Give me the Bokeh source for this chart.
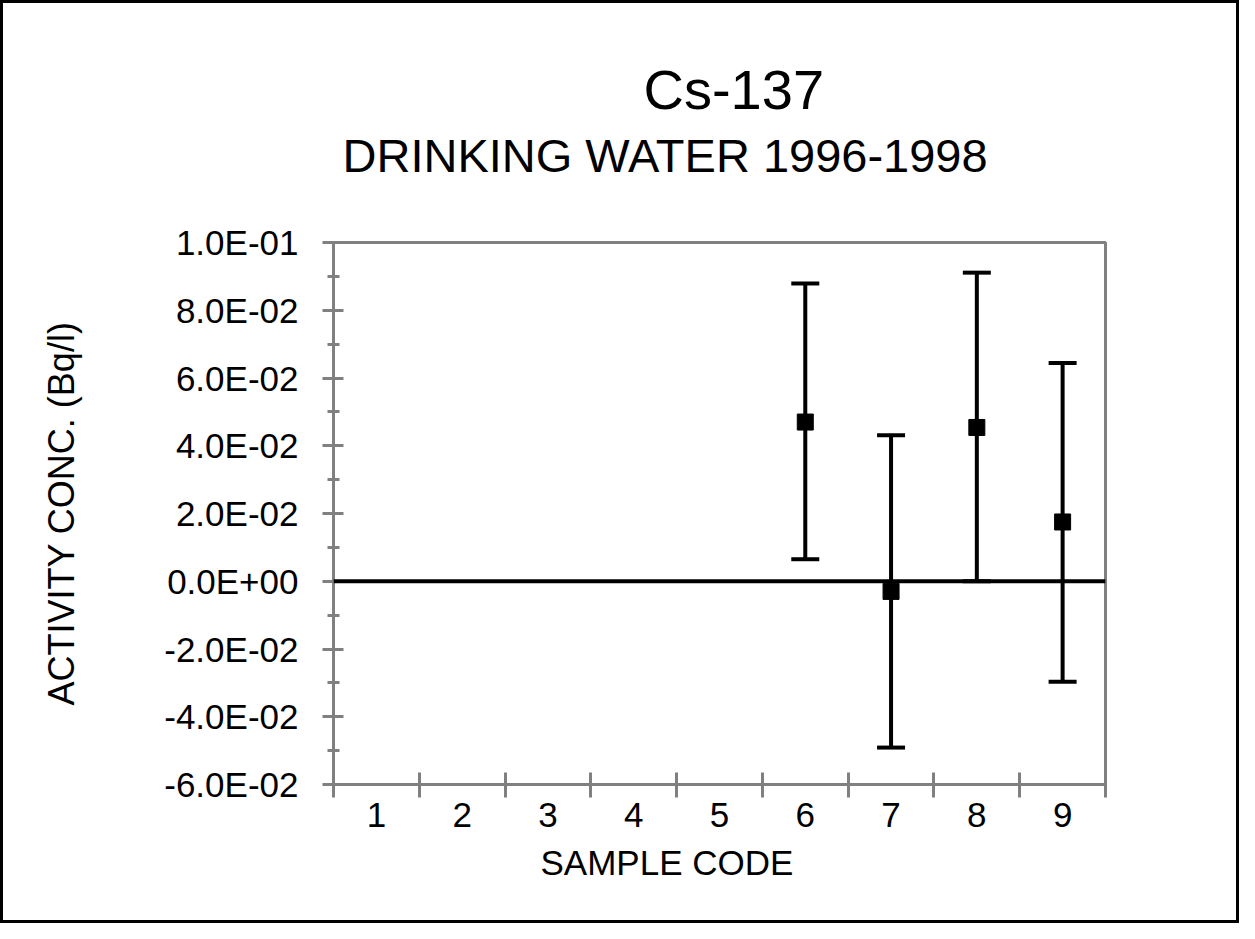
from bokeh.plotting import figure
from bokeh.models import (ColumnDataSource, Whisker, TeeHead, FixedTicker, Span, Title,
                          Range1d)
from bokeh.embed import file_html
from bokeh.resources import INLINE

# ---- data ----
sample_codes = [6, 7, 8, 9]
activity = [0.0470, -0.0030, 0.0454, 0.0175]
lower = [0.0065, -0.0491, 0.0000, -0.0297]
upper = [0.0879, 0.0431, 0.0911, 0.0644]

x_tick_values = [1, 2, 3, 4, 5, 6, 7, 8, 9]
x_tick_labels = ["1", "2", "3", "4", "5", "6", "7", "8", "9"]
x_boundaries = [0.5, 1.5, 2.5, 3.5, 4.5, 5.5, 6.5, 7.5, 8.5, 9.5]
y_tick_values = [-0.06, -0.04, -0.02, 0.0, 0.02, 0.04, 0.06, 0.08, 0.1]
y_tick_labels = ["-6.0E-02", "-4.0E-02", "-2.0E-02", "0.0E+00", "2.0E-02",
                 "4.0E-02", "6.0E-02", "8.0E-02", "1.0E-01"]
y_minor_values = [-0.05, -0.03, -0.01, 0.01, 0.03, 0.05, 0.07, 0.09]

title_text = "Cs-137"
subtitle_text = "DRINKING WATER 1996-1998"
x_label = "SAMPLE CODE"
y_label = "ACTIVITY CONC. (Bq/l)"

FONT = "Liberation Sans"
GRAY = "#808080"

src = ColumnDataSource(dict(x=sample_codes, y=activity, lower=lower, upper=upper))

p = figure(width=1239, height=923, output_backend="svg", toolbar_location=None,
           x_range=Range1d(0.5, 9.5), y_range=Range1d(-0.06, 0.1),
           min_border_left=330, min_border_right=137, min_border_top=239,
           min_border_bottom=142)
p.styles = {"border": "3px solid black", "box-sizing": "border-box"}

p.xgrid.visible = False
p.ygrid.visible = False
p.outline_line_color = GRAY
p.outline_line_width = 3
p.background_fill_color = "white"
p.border_fill_color = "white"

# x axis
xa = p.xaxis[0]
xa.ticker = FixedTicker(ticks=x_tick_values, minor_ticks=x_boundaries)
xa.major_label_overrides = {v: l for v, l in zip(x_tick_values, x_tick_labels)}
xa.major_tick_line_color = None
xa.major_tick_out = 13
xa.major_tick_in = 0
xa.minor_tick_line_color = GRAY
xa.minor_tick_line_width = 3
xa.minor_tick_out = 13
xa.minor_tick_in = 12
xa.axis_line_color = GRAY
xa.axis_line_width = 3
xa.major_label_text_font = FONT
xa.major_label_text_font_size = "35px"
xa.major_label_text_color = "black"
xa.major_label_standoff = 5

# y axis
ya = p.yaxis[0]
ya.ticker = FixedTicker(ticks=y_tick_values, minor_ticks=y_minor_values)
ya.major_label_overrides = {v: l for v, l in zip(y_tick_values, y_tick_labels)}
ya.major_tick_line_color = GRAY
ya.major_tick_line_width = 3
ya.major_tick_out = 11
ya.major_tick_in = 10
ya.minor_tick_line_color = GRAY
ya.minor_tick_line_width = 3
ya.minor_tick_out = 6
ya.minor_tick_in = 6
ya.axis_line_color = GRAY
ya.axis_line_width = 3
ya.major_label_text_font = FONT
ya.major_label_text_font_size = "35px"
ya.major_label_text_color = "black"
ya.major_label_standoff = 24
ya.axis_label = y_label
ya.axis_label_text_font = FONT
ya.axis_label_text_font_size = "36px"
ya.axis_label_text_font_style = "normal"
ya.axis_label_text_color = "black"
ya.axis_label_standoff = 79

# x axis label as a below title (offset to match reference placement)
p.add_layout(Title(text=x_label, align="left", offset=207, text_font=FONT,
                   text_font_size="35px", text_font_style="normal",
                   text_color="black", standoff=22), "below")

# titles (first added sits closest to the plot); a blank spacer keeps the gap
p.add_layout(Title(text=" ", text_font_size="1px", standoff=57), "above")
p.add_layout(Title(text=subtitle_text, align="left", offset=9, text_font=FONT,
                   text_font_size="47px", text_font_style="normal",
                   text_color="black", standoff=2), "above")
p.add_layout(Title(text=title_text, align="left", offset=310, text_font=FONT,
                   text_font_size="56px", text_font_style="normal",
                   text_color="black", standoff=9), "above")

# zero line
p.add_layout(Span(location=0, dimension="width", line_color="black", line_width=4))

# error bars
w = Whisker(source=src, base="x", lower="lower", upper="upper",
            line_color="black", line_width=4,
            upper_head=TeeHead(size=28, line_color="black", line_width=4),
            lower_head=TeeHead(size=28, line_color="black", line_width=4))
p.add_layout(w)

p.scatter("x", "y", source=src, marker="square", size=16, fill_color="black",
          line_color="black")

open("out.html", "w").write(file_html(p, INLINE))
